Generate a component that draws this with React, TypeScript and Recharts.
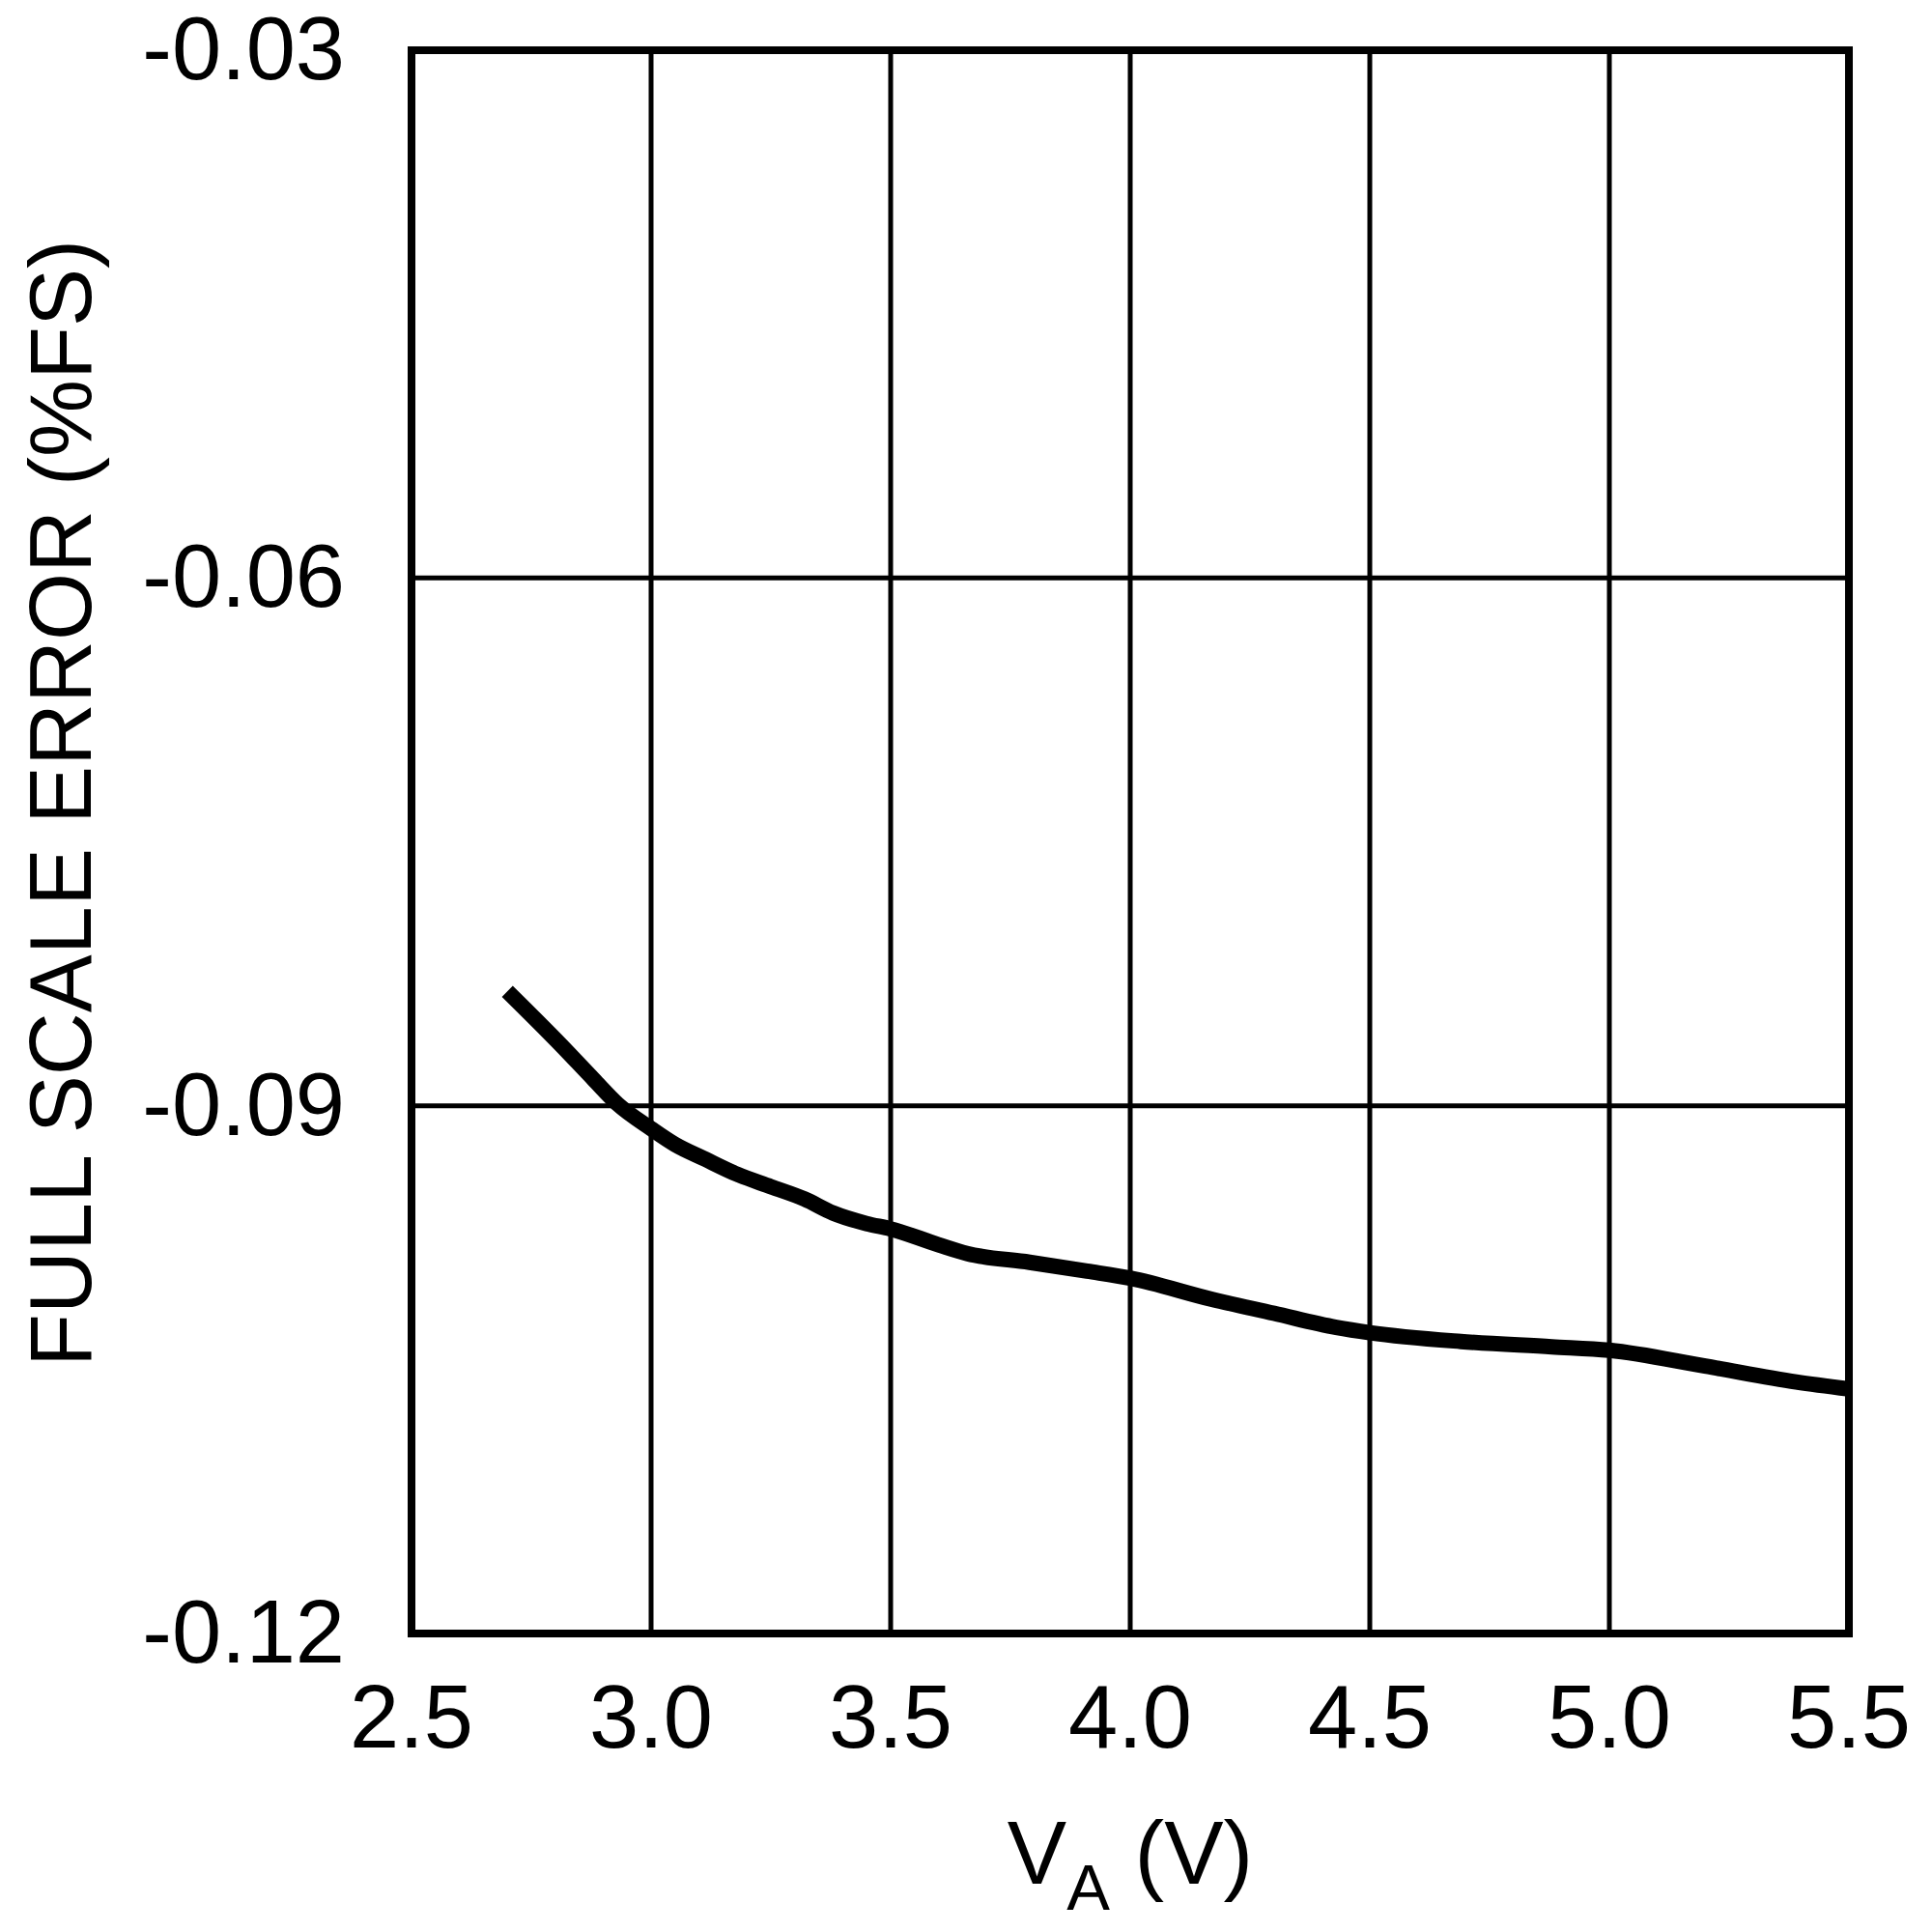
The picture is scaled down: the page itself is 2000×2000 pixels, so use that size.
import React from "react";
import { LineChart, Line, XAxis, YAxis, CartesianGrid, ReferenceArea } from "recharts";

const voltage = [2.7, 2.81, 2.88, 2.93, 3.0, 3.05, 3.11, 3.18, 3.25, 3.32, 3.38, 3.45, 3.5, 3.6, 3.66, 3.79, 3.91, 4.0, 4.17, 4.3, 4.43, 4.5, 4.69, 4.88, 5.0, 5.2, 5.39, 5.5];
const fullScaleError = [-0.0835, -0.0865, -0.0885, -0.0899, -0.0913, -0.0922, -0.093, -0.0939, -0.0946, -0.0953, -0.0961, -0.0967, -0.097, -0.0979, -0.0984, -0.0989, -0.0994, -0.0998, -0.101, -0.1018, -0.1026, -0.1029, -0.1034, -0.1037, -0.1039, -0.1048, -0.1057, -0.1061];

const xTicks = [2.5, 3.0, 3.5, 4.0, 4.5, 5.0, 5.5];
const xTickLabels = ["2.5", "3.0", "3.5", "4.0", "4.5", "5.0", "5.5"];
const yTicks = [-0.12, -0.09, -0.06, -0.03];
const yTickLabels = ["-0.12", "-0.09", "-0.06", "-0.03"];

const yAxisTitle = "FULL SCALE ERROR (%FS)";
const xAxisTitleMain = "V";
const xAxisTitleSub = "A";
const xAxisTitleUnit = " (V)";

const data = voltage.map((v, i) => ({ v, e: fullScaleError[i] }));

const FONT = "'Liberation Sans', Arial, Helvetica, sans-serif";

const labelFor = (ticks: number[], labels: string[], value: number) => {
  const i = ticks.findIndex((t) => Math.abs(t - value) < 1e-9);
  return i >= 0 ? labels[i] : String(value);
};

const XTick = (props: any) => {
  const { x, y, payload } = props;
  return (
    <text x={x} y={y} dy={118} textAnchor="middle" fontSize={92} fontFamily={FONT} fill="#000">
      {labelFor(xTicks, xTickLabels, payload.value)}
    </text>
  );
};

const YTick = (props: any) => {
  const { x, y, payload } = props;
  return (
    <text x={x - 69} y={y} dy={30} textAnchor="end" fontSize={92} fontFamily={FONT} fill="#000">
      {labelFor(yTicks, yTickLabels, payload.value)}
    </text>
  );
};

const XTitle = (props: any) => {
  const vb = props.viewBox || { x: 418, y: 1683, width: 1488, height: 309 };
  const cx = vb.x + vb.width / 2;
  const by = vb.y + 259;
  return (
    <text x={cx} y={by} textAnchor="middle" fontFamily={FONT} fill="#000" fontSize={92}>
      <tspan>{xAxisTitleMain}</tspan>
      <tspan fontSize={67} dy={27}>{xAxisTitleSub}</tspan>
      <tspan dy={-27}>{xAxisTitleUnit}</tspan>
    </text>
  );
};

const YTitle = (props: any) => {
  const vb = props.viewBox || { x: 0, y: 44, width: 418, height: 1639 };
  const cx = 86;
  const cy = vb.y + vb.height / 2 - 40;
  return (
    <text
      x={cx}
      y={cy}
      textAnchor="middle"
      transform={`rotate(-90, ${cx}, ${cy})`}
      fontFamily={FONT}
      fontSize={90}
      fill="#000"
    >
      {yAxisTitle}
    </text>
  );
};

export default function App() {
  return (
    <div style={{ width: 1992, height: 1992, background: "#fff" }}>
      <LineChart width={1992} height={1992} data={data} margin={{ top: 44, right: 86, bottom: 0, left: 0 }}>
        <CartesianGrid stroke="#000" strokeWidth={5} />
        <XAxis
          dataKey="v"
          type="number"
          domain={[2.5, 5.5]}
          ticks={xTicks}
          interval={0}
          height={309}
          axisLine={false}
          tickLine={false}
          tickSize={0}
          tickMargin={0}
          tick={<XTick />}
          label={<XTitle />}
          allowDataOverflow
        />
        <YAxis
          type="number"
          domain={[-0.12, -0.03]}
          ticks={yTicks}
          interval={0}
          width={418}
          axisLine={false}
          tickLine={false}
          tickSize={0}
          tickMargin={0}
          tick={<YTick />}
          label={<YTitle />}
          allowDataOverflow
        />
        <Line
          dataKey="e"
          type="monotone"
          stroke="#000"
          strokeWidth={16}
          dot={false}
          activeDot={false}
          isAnimationActive={false}
        />
        <ReferenceArea
          x1={2.5}
          x2={5.5}
          y1={-0.12}
          y2={-0.03}
          fill="none"
          fillOpacity={0}
          stroke="#000"
          strokeWidth={8}
          ifOverflow="visible"
        />
      </LineChart>
    </div>
  );
}
